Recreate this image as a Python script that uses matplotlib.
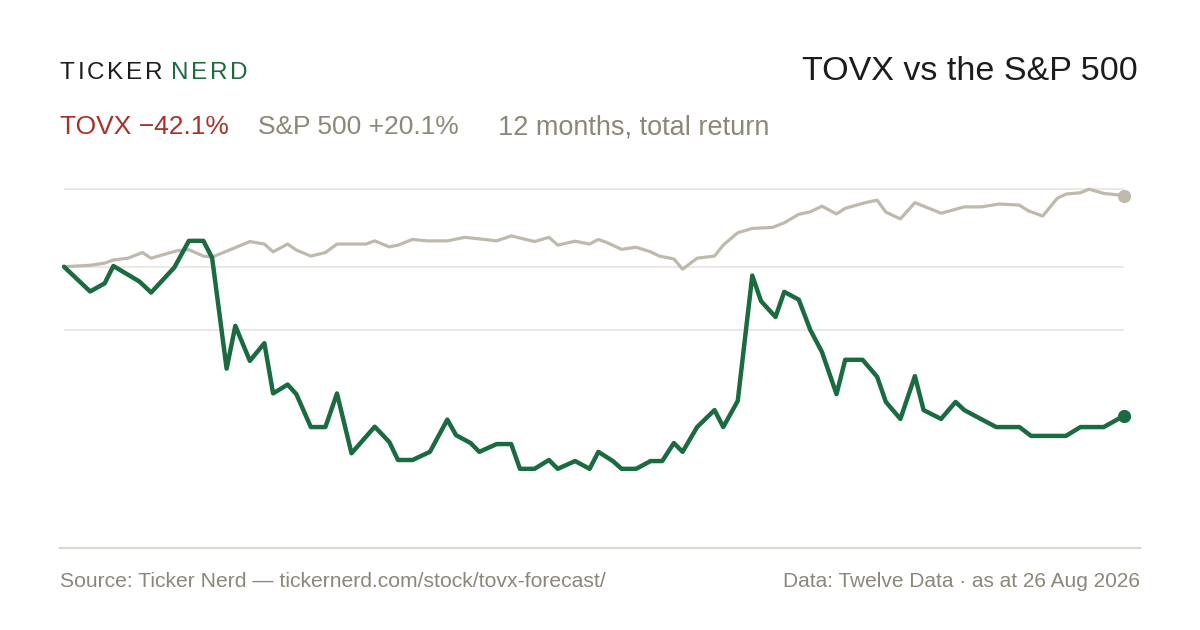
import matplotlib
matplotlib.use('Agg')
import matplotlib.pyplot as plt
from matplotlib.lines import Line2D

plt.rcParams['font.family'] = ['Liberation Sans', 'DejaVu Sans']

# x = days since 26 Aug 2025, y = total return in %
tovx_day = [0, 9, 14, 17, 26, 30, 38, 43, 48, 51, 56, 59, 64, 69, 72, 77, 80, 85, 90,
            94, 99, 107, 112, 115, 120, 126, 132, 135, 140, 143, 149, 154, 157, 162,
            167, 170, 176, 181, 184, 189, 192, 197, 202, 206, 210, 213, 218, 224, 227,
            232, 237, 240, 245, 248, 253, 257, 261, 266, 269, 275, 280, 283, 288, 293,
            296, 302, 307, 310, 315, 321, 329, 333, 345, 350, 358, 365]
tovx_ret = [0.0, -7.0, -4.7, 0.2, -4.2, -7.3, -0.2, 7.3, 7.3, 2.5, -28.8, -16.7, -26.6,
            -21.6, -35.8, -33.3, -36.0, -45.3, -45.3, -35.8, -52.7, -45.2, -49.5, -54.6,
            -54.6, -52.3, -43.2, -47.6, -49.8, -52.3, -50.1, -50.1, -57.1, -57.1, -54.6,
            -57.1, -54.9, -57.1, -52.3, -54.9, -57.1, -57.1, -54.9, -54.9, -49.8, -52.3,
            -45.3, -40.5, -45.3, -37.9, -2.5, -9.7, -14.2, -7.1, -9.3, -17.9, -24.1,
            -36.0, -26.3, -26.3, -31.1, -38.2, -43.0, -30.9, -40.5, -43.0, -38.2, -40.5,
            -42.7, -45.3, -45.3, -47.8, -47.8, -45.3, -45.3, -42.1]

spx_day = [0, 9, 14, 17, 22, 27, 30, 35, 39, 43, 48, 51, 64, 69, 72, 77, 80, 85, 90, 94,
           104, 107, 112, 115, 120, 125, 132, 138, 149, 154, 162, 167, 170, 176, 181,
           184, 187, 192, 197, 202, 205, 210, 213, 218, 224, 227, 232, 237, 244, 248,
           253, 257, 261, 266, 269, 276, 280, 283, 288, 293, 302, 310, 316, 322, 329,
           332, 337, 342, 345, 350, 353, 358, 365]
spx_ret = [0.0, 0.4, 1.0, 1.9, 2.4, 4.0, 2.4, 3.6, 4.5, 4.8, 3.0, 2.7, 7.1, 6.4, 4.2, 6.4,
           4.7, 3.0, 4.0, 6.4, 6.4, 7.3, 5.6, 6.1, 7.7, 7.3, 7.3, 8.3, 7.3, 8.7, 7.1, 8.3,
           6.1, 7.2, 6.4, 7.7, 6.8, 4.9, 5.5, 4.2, 3.0, 2.2, -0.7, 2.4, 3.0, 6.1, 9.6,
           10.8, 11.1, 12.4, 14.8, 15.5, 17.1, 14.9, 16.5, 18.1, 18.8, 15.4, 13.5, 18.1,
           15.1, 16.9, 16.9, 17.7, 17.4, 15.8, 14.3, 19.3, 20.5, 20.9, 21.9, 20.7, 20.1]

grid_levels = [21.9, 0.0, -17.9]

GREEN = '#1a6b40'
SAND = '#bfb8ad'
RED = '#a83228'
GREY = '#8c8778'
INK = '#1c1c1c'

W, H = 1200, 630
fig = plt.figure(figsize=(12, 6.3), dpi=100)
fig.patch.set_facecolor('white')


def px(x, y):
    return x / W, 1 - y / H


# plot area: 64..1124 px wide, 180..548 px tall
ax = fig.add_axes([64 / W, 1 - 548 / H, 1060 / W, 368 / H])
ax.set_xlim(0, 365)
ax.set_ylim(-79.46, 24.49)
ax.axis('off')

for g in grid_levels:
    ax.axhline(g, color='#ece9e4', lw=1.4, zorder=0)

ax.plot(spx_day, spx_ret, color=SAND, lw=2.3, solid_joinstyle='round',
        solid_capstyle='round', clip_on=False, zorder=2)
ax.plot(tovx_day, tovx_ret, color=GREEN, lw=3.2, solid_joinstyle='round',
        solid_capstyle='round', clip_on=False, zorder=3)
ax.plot(spx_day[-1], spx_ret[-1], 'o', color=SAND, ms=8.5, clip_on=False, zorder=4)
ax.plot(tovx_day[-1], tovx_ret[-1], 'o', color=GREEN, ms=8.5, clip_on=False, zorder=4)

# baseline under the plot
fig.add_artist(Line2D([60 / W, 1140 / W], [1 - 548 / H] * 2, color='#dcd8d0', lw=1.6))

# logo with letter spacing
renderer = fig.canvas.get_renderer()


def spaced(x, y, s, color, size, track):
    for ch in s:
        t = fig.text(*px(x, y), ch, color=color, fontsize=size, va='baseline')
        x += t.get_window_extent(renderer).width + track
    return x


xe = spaced(60, 79, 'TICKER', INK, 17.5, 2.8)
spaced(xe + 5, 79, 'NERD', GREEN, 17.5, 2.8)

fig.text(*px(1138, 80), 'TOVX vs the S&P 500', color=INK, fontsize=24.5,
         ha='right', va='baseline')

fig.text(*px(60, 134), 'TOVX \u221242.1%', color=RED, fontsize=19, va='baseline')
fig.text(*px(258, 134), 'S&P 500 +20.1%', color=GREY, fontsize=19, va='baseline')
fig.text(*px(498, 134), '12 months, total return', color=GREY, fontsize=19.5, va='baseline')

fig.text(*px(60, 587), 'Source: Ticker Nerd \u2014 tickernerd.com/stock/tovx-forecast/',
         color=GREY, fontsize=15.2, va='baseline')
fig.text(*px(1140, 587), 'Data: Twelve Data \u00b7 as at 26 Aug 2026',
         color=GREY, fontsize=15, ha='right', va='baseline')

fig.savefig('out.png', dpi=100, facecolor='white')
